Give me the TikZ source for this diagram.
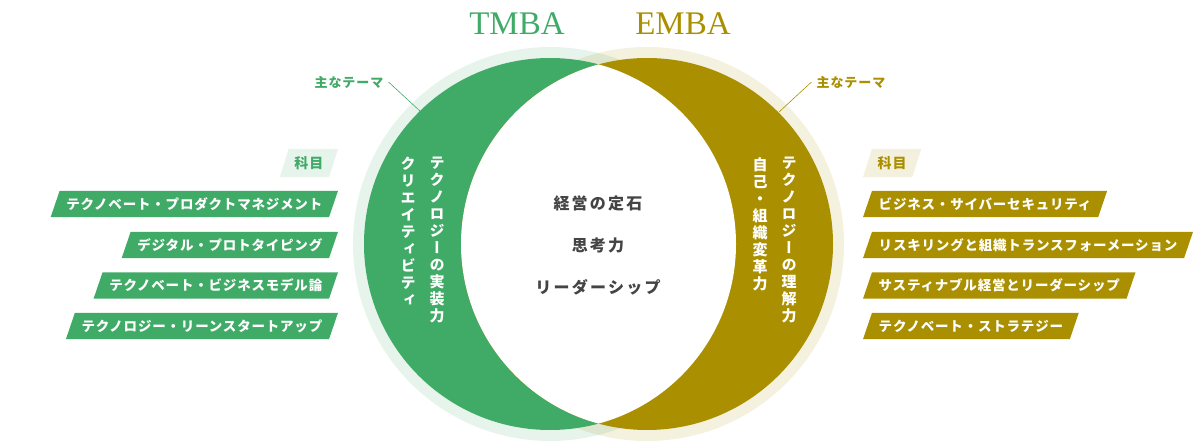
\documentclass[tikz,border=0pt]{standalone}
\usepackage{fontspec}
\setmainfont{Liberation Serif}
\newfontfamily\coursefont[LetterSpace=6]{Noto Sans CJK JP}
\newfontfamily\corefont[LetterSpace=14]{Noto Sans CJK JP}
\newfontfamily\themefont[LetterSpace=7]{Noto Sans CJK JP}
\newfontfamily\tagfont[LetterSpace=6]{Noto Sans CJK JP}
\newfontfamily\vertfont[RawFeature=+vert]{Noto Sans CJK JP}
\usepackage{tikz}
\usetikzlibrary{
  calc,        % 坐标计算
  backgrounds, % 斜条放在背景层
  positioning  % 节点相对定位
}
\definecolor{tmbagreen}{RGB}{64,170,103}
\definecolor{embagold}{RGB}{170,143,0}
\definecolor{coregray}{RGB}{68,68,68}
\tikzset{
  course/.style={
    font=\coursefont\fontsize{13.5}{16}\selectfont\bfseries,
    text=white,
    minimum height=26pt,
    inner xsep=11pt,
    inner ysep=0pt
  },
  tag/.style={
    font=\tagfont\fontsize{14}{16}\selectfont\bfseries,
    minimum height=28pt,
    inner xsep=10pt,
    inner ysep=0pt
  },
  theme/.style={
    font=\themefont\fontsize{13}{15}\selectfont\bfseries,
    inner sep=0pt
  },
  vlabel/.style={
    font=\vertfont\fontsize{15}{17}\selectfont\bfseries,
    text=white,
    align=center,
    anchor=north,
    inner sep=0pt
  },
  core/.style={
    font=\corefont\fontsize{16}{18}\selectfont\bfseries,
    text=coregray,
    inner sep=0pt
  },
  title/.style={
    font=\fontsize{33}{36}\selectfont
  },
  leader/.style={
    line width=0.6pt
  }
}
% 斜平行四边形底色
\newcommand\slantbar[2]{%
  \fill[#2] ([xshift=4.5pt]#1.north west) -- ([xshift=4.5pt]#1.north east)
    -- ([xshift=-4.5pt]#1.south east) -- ([xshift=-4.5pt]#1.south west) -- cycle;}

\begin{document}
\begin{tikzpicture}[x=1pt, y=-1pt]
  \useasboundingbox (0,0) rectangle (1200,443);
  % 圆的半径
  \def\R{186pt}
  \def\Rring{197pt}
  \coordinate (tmbaC) at (550,244);
  \coordinate (embaC) at (647,244);

  % ==== 1. 两个圆 ====
  \fill[tmbagreen, fill opacity=0.13] (tmbaC) circle (\Rring);
  \fill[embagold, fill opacity=0.13] (embaC) circle (\Rring);
  \fill[tmbagreen] (tmbaC) circle (\R);
  \fill[embagold] (embaC) circle (\R);
  \begin{scope}
    \clip (tmbaC) circle (\R);
    \fill[white] (embaC) circle (\R);
  \end{scope}

  % 标题
  \node[title, text=tmbagreen] (tmbaTitle) at (517,24) {TMBA};
  \node[title, text=embagold] (embaTitle) at (683,24) {EMBA};

  % ==== 2. 主なテーマ ====
  \node[theme, text=tmbagreen] (themeL) at (349,82) {主なテーマ};
  \coordinate (themeLend) at (421,112);
  \draw[leader, tmbagreen] ([xshift=5pt]themeL.east) -- (themeLend);
  \node[theme, text=embagold] (themeR) at (851,82) {主なテーマ};
  \coordinate (themeRend) at (779,112);
  \draw[leader, embagold] ([xshift=-5pt]themeR.west) -- (themeRend);

  % 月牙内竖排文字
  \node[vlabel] (tmbaTech) at (437,157) {テ\\ク\\ノ\\ロ\\ジ\\ー\\の\\実\\装\\力};
  \node[vlabel] (tmbaCreat) at (408,157) {ク\\リ\\エ\\イ\\テ\\ィ\\ビ\\テ\\ィ};
  \node[vlabel] (embaTech) at (789,157) {テ\\ク\\ノ\\ロ\\ジ\\ー\\の\\理\\解\\力};
  \node[vlabel] (embaSelf) at (760,157) {自\\己\\・\\組\\織\\変\\革\\力};

  % 中间共同部分
  \node[core] (keiei) at (598,203) {経営の定石};
  \node[core] (shikou) at (598,245) {思考力};
  \node[core] (leadership) at (598,287) {リーダーシップ};

  % ==== 3. 左侧科目 ====
  \node[tag, text=tmbagreen, anchor=east] (tagL) at (333.5,163) {科目};
  \begin{scope}[on background layer]
    \slantbar{tagL}{tmbagreen!13}
  \end{scope}
  \foreach \name/\y/\txt in {
      prodMgmt/204/テクノベート・プロダクトマネジメント,
      protoType/245/デジタル・プロトタイピング,
      bizModel/285.5/テクノベート・ビジネスモデル論,
      leanStart/326/テクノロジー・リーンスタートアップ}{
    \node[course, anchor=east] (\name) at (333.5,\y) {\txt};
    \begin{scope}[on background layer]
      \slantbar{\name}{tmbagreen}
    \end{scope}
  }

  % ==== 4. 右侧科目 ====
  \node[tag, text=embagold, anchor=west] (tagR) at (867.5,163) {科目};
  \begin{scope}[on background layer]
    \slantbar{tagR}{embagold!13}
  \end{scope}
  \foreach \name/\y/\txt in {
      cyberSec/204/ビジネス・サイバーセキュリティ,
      reskill/245/リスキリングと組織トランスフォーメーション,
      sustain/285.5/サスティナブル経営とリーダーシップ,
      strategy/326/テクノベート・ストラテジー}{
    \node[course, anchor=west] (\name) at (867.5,\y) {\txt};
    \begin{scope}[on background layer]
      \slantbar{\name}{embagold}
    \end{scope}
  }
\end{tikzpicture}
\end{document}
